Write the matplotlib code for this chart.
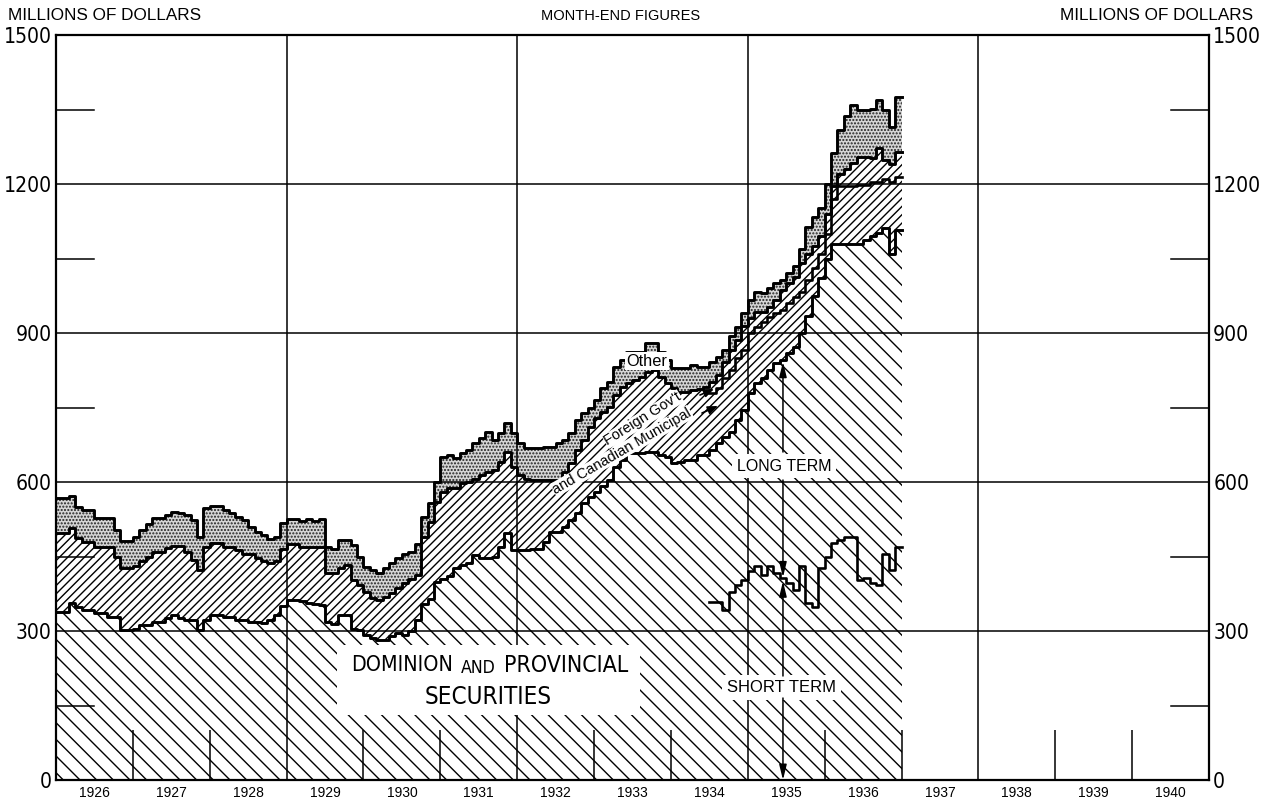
import os
import numpy as np
import matplotlib
matplotlib.use('Agg')
import matplotlib.pyplot as plt
from matplotlib.patches import Rectangle
from matplotlib import font_manager as fm

# ---------------- data (month-end, millions of dollars) ----------------
start_year = 1926  # first month = Jan 1926, last = Dec 1936

# top of "Dominion and Provincial securities"
dominion = [339, 339, 356, 349, 342, 342, 336, 336, 329, 329, 302, 302,
            305, 312, 312, 319, 319, 326, 332, 326, 322, 322, 302, 322,
            332, 332, 329, 329, 322, 322, 319, 319, 317, 322, 333, 350,
            362, 362, 360, 356, 355, 353, 318, 315, 333, 333, 305, 302,
            292, 285, 282, 282, 289, 295, 292, 299, 322, 355, 365, 399,
            405, 410, 426, 432, 436, 453, 446, 446, 450, 470, 497, 463,
            463, 463, 465, 465, 480, 500, 500, 510, 523, 537, 557, 570,
            580, 591, 604, 631, 644, 658, 658, 658, 661, 661, 655, 651,
            638, 640, 644, 644, 654, 654, 664, 678, 691, 701, 725, 745,
            780, 800, 810, 825, 839, 845, 859, 872, 900, 935, 975, 1010,
            1050, 1080, 1080, 1080, 1080, 1080, 1087, 1095, 1101, 1111, 1060, 1107]

# top of "Foreign Gov't and Canadian Municipal" (cumulative)
foreign_top = [497, 497, 507, 487, 480, 480, 470, 470, 470, 450, 426, 426,
               430, 440, 450, 460, 460, 467, 471, 471, 460, 443, 423, 470,
               477, 477, 470, 470, 463, 456, 456, 446, 440, 436, 440, 466,
               476, 476, 470, 470, 470, 470, 416, 416, 426, 433, 403, 393,
               379, 366, 362, 369, 376, 386, 396, 405, 413, 490, 520, 560,
               580, 587, 587, 597, 600, 607, 615, 620, 624, 641, 660, 631,
               614, 606, 604, 604, 604, 604, 604, 621, 638, 664, 685, 711,
               728, 740, 752, 775, 792, 800, 805, 812, 822, 825, 812, 799,
               789, 782, 782, 785, 788, 792, 802, 815, 842, 866, 886, 915,
               930, 943, 943, 953, 966, 986, 1000, 1013, 1040, 1060, 1075, 1095,
               1140, 1195, 1221, 1231, 1242, 1255, 1255, 1252, 1272, 1248, 1240, 1265]

# top of "Other" (total holdings)
total_top = [567, 567, 572, 549, 544, 544, 527, 527, 527, 503, 482, 482,
             490, 503, 515, 527, 527, 533, 540, 537, 533, 523, 490, 547,
             552, 552, 544, 538, 530, 523, 510, 500, 493, 486, 490, 517,
             525, 525, 522, 525, 522, 525, 470, 466, 483, 483, 473, 450,
             429, 423, 416, 426, 436, 446, 456, 460, 476, 530, 557, 601,
             650, 654, 648, 658, 664, 678, 688, 701, 684, 698, 719, 698,
             678, 668, 668, 668, 671, 671, 678, 685, 698, 725, 738, 748,
             765, 789, 802, 832, 846, 862, 862, 862, 879, 879, 862, 846,
             829, 829, 829, 835, 832, 832, 842, 852, 866, 893, 913, 940,
             966, 983, 980, 990, 1000, 1007, 1020, 1034, 1070, 1114, 1134, 1151,
             1200, 1262, 1309, 1336, 1359, 1349, 1349, 1352, 1369, 1349, 1315, 1376]

# from July 1934: split between Foreign Gov't (above) and Canadian Municipal (below)
split_start_month = 102
municipal_top = [780, 790, 810, 825, 849, 866, 900, 913, 923, 933, 940, 946,
                 960, 973, 983, 1007, 1030, 1060, 1100, 1170, 1195, 1195, 1195, 1198,
                 1198, 1205, 1205, 1211, 1205, 1215]

# short-term Dominion and Provincial securities
short_term = [359, 359, 342, 379, 393, 403, 420, 430, 413, 430, 416, 406,
              396, 383, 430, 356, 349, 426, 450, 477, 483, 490, 490, 403,
              406, 396, 393, 456, 423, 470]

year_labels = [str(y) for y in range(1926, 1941)]
y_ticks = [0, 300, 600, 900, 1200, 1500]

# ---------------- fonts ----------------
def find_font(names):
    files = {os.path.basename(f.fname): f.fname for f in fm.fontManager.ttflist}
    for n in names:
        if n in files:
            return fm.FontProperties(fname=files[n])
    return None


COND = find_font(['LiberationSansNarrow-Regular.ttf', 'DejaVuSansCondensed.ttf',
                  'NotoSans-Condensed.ttf', 'NotoSans-CondensedRegular.ttf',
                  'RobotoCondensed-Regular.ttf', 'OpenSans-CondensedRegular.ttf'])
if COND is None:
    COND = fm.FontProperties(family=['Liberation Sans', 'DejaVu Sans'])
SANS = ['Liberation Sans', 'DejaVu Sans']

# ---------------- figure ----------------
W, H = 1271, 801
plt.rcParams['hatch.linewidth'] = 1.0

fig = plt.figure(figsize=(W / 100, H / 100), dpi=100)
fig.patch.set_facecolor('white')
ax = fig.add_axes([56 / W, 1 - 780 / H, (1209 - 56) / W, (780 - 35) / H])
ax.set_xlim(1926, 1941)
ax.set_ylim(0, 1500)
for s in ax.spines.values():
    s.set_linewidth(1.6)
    s.set_zorder(6)

n = len(dominion)
x = start_year + np.arange(n + 1) / 12.0


def ext(v):
    v = np.asarray(v, dtype=float)
    return np.append(v, v[-1])


D = ext(dominion)
F = ext(foreign_top)
T = ext(total_top)

ax.fill_between(x, 0, D, step='post', facecolor='white', edgecolor='black',
                hatch='\\\\', linewidth=0, zorder=1)
ax.fill_between(x, D, F, step='post', facecolor='white', edgecolor='black',
                hatch='////', linewidth=0, zorder=1)
ax.fill_between(x, F, T, step='post', facecolor='#d6d6d6', edgecolor='#222222',
                hatch='.....', linewidth=0, zorder=1)

# grid
for yv in [300, 600, 900, 1200]:
    ax.axhline(yv, color='black', lw=1.1, zorder=2)
for xv in [1929, 1932, 1935, 1938]:
    ax.axvline(xv, color='black', lw=1.1, zorder=2)
for yv in [150, 450, 750, 1050, 1350]:
    ax.plot([1926, 1926.5], [yv, yv], color='black', lw=1.1, zorder=2)
    ax.plot([1940.5, 1941], [yv, yv], color='black', lw=1.1, zorder=2)
ax.vlines([1927, 1928, 1930, 1931, 1933, 1934, 1936, 1937, 1939, 1940], 0, 100,
          color='black', lw=1.1, zorder=2)

# boundary lines
for arr in (T, F, D):
    ax.step(x, arr, where='post', color='black', lw=2.1, zorder=4)
xs = start_year + (split_start_month + np.arange(len(municipal_top) + 1)) / 12.0
ax.step(xs, ext(municipal_top), where='post', color='black', lw=1.9, zorder=4)
ax.step(xs, ext(short_term), where='post', color='black', lw=1.9, zorder=4)

# ticks / labels
ax.set_yticks(y_ticks)
ax.set_yticklabels([str(v) for v in y_ticks])
ax.tick_params(axis='y', length=0, pad=3, labelright=True, right=False)
ax.set_xticks([])
ax.set_xticks([y + 0.5 for y in range(1926, 1941)], minor=True)
ax.set_xticklabels(year_labels, minor=True, fontfamily=SANS, fontsize=10)
ax.tick_params(axis='x', which='minor', length=0, pad=4)

fig.text(8 / W, 1 - 16 / H, 'MILLIONS OF DOLLARS', fontsize=12.3, family=SANS,
         ha='left', va='center')
fig.text(1253 / W, 1 - 16 / H, 'MILLIONS OF DOLLARS', fontsize=12.3, family=SANS,
         ha='right', va='center')
fig.text(621 / W, 1 - 16 / H, 'MONTH-END FIGURES', fontsize=10.5, family=SANS,
         ha='center', va='center')


def px2data(px, py):
    return 1926 + (px - 56) / 76.87, (780 - py) / 0.4967


fig.canvas.draw()
R = fig.canvas.get_renderer()


def fit(t, target_w, max_size):
    t.set_fontsize(20)
    w = t.get_window_extent(renderer=R).width
    t.set_fontsize(min(max_size, 20 * target_w / w))


# y tick labels (both sides)
for tk in ax.yaxis.get_major_ticks():
    for lab in (tk.label1, tk.label2):
        lab.set_fontproperties(COND)
        fit(lab, 12 * len(lab.get_text()) if lab.get_text() != '0' else 12, 17)

# big label
bx0, by0 = px2data(337, 715)
bx1, by1 = px2data(640, 645)
ax.add_patch(Rectangle((bx0, by0), bx1 - bx0, by1 - by0, facecolor='white',
                       edgecolor='none', zorder=5))
for txt, px, py, ha, tw, ms in [('DOMINION', 453, 665, 'right', 102, 20),
                                ('AND', 478.5, 668, 'center', 35, 13),
                                ('PROVINCIAL', 504, 665, 'left', 125, 20),
                                ('SECURITIES', 488, 697, 'center', 127, 20)]:
    tx, ty = px2data(px, py)
    t = ax.text(tx, ty, txt, fontproperties=COND, ha=ha, va='center', zorder=6)
    fit(t, tw, ms)

# long / short term
ax_x = px2data(783, 0)[0]
bb = dict(facecolor='white', edgecolor='none', pad=3)
tx, ty = px2data(784, 466)
t = ax.text(tx, ty, 'LONG TERM', family=SANS, ha='center', va='center', bbox=bb, zorder=6)
fit(t, 95, 12)
tx, ty = px2data(782, 687)
t = ax.text(tx, ty, 'SHORT TERM', family=SANS, ha='center', va='center', bbox=bb, zorder=6)
fit(t, 116, 12)
arrow = dict(arrowstyle='-|>,head_length=0.9,head_width=0.22', color='black', lw=1.1,
             shrinkA=0, shrinkB=0)
ax.annotate('', xy=(ax_x, 842), xytext=(ax_x, px2data(0, 452)[1]), arrowprops=arrow, zorder=6)
ax.annotate('', xy=(ax_x, 408), xytext=(ax_x, px2data(0, 480)[1]), arrowprops=arrow, zorder=6)
ax.annotate('', xy=(ax_x, 400), xytext=(ax_x, px2data(0, 676)[1]), arrowprops=arrow, zorder=6)
ax.annotate('', xy=(ax_x, 0), xytext=(ax_x, px2data(0, 698)[1]), arrowprops=arrow, zorder=6)

# other
tx, ty = px2data(647, 361)
t = ax.text(tx, ty, 'Other', family=SANS, ha='center', va='center',
            bbox=dict(facecolor='white', edgecolor='none', pad=1), zorder=6)
fit(t, 41, 12)

# foreign / municipal label
tx, ty = px2data(622, 451)
t2 = ax.text(tx, ty, 'and Canadian Municipal', family=SANS, rotation=30,
             rotation_mode='anchor', ha='center', va='center',
             bbox=dict(facecolor='white', edgecolor='none', pad=0.3), zorder=6)
t2.set_fontsize(10.5)
tx, ty = px2data(643, 419)
t1 = ax.text(tx, ty, "Foreign Gov't", family=SANS, rotation=32,
             rotation_mode='anchor', ha='center', va='center',
             bbox=dict(facecolor='white', edgecolor='none', pad=0.3), zorder=7)
t1.set_fontsize(10.5)
small = dict(arrowstyle='-|>,head_length=0.6,head_width=0.25', color='black', lw=1.2,
             shrinkA=0, shrinkB=0)
ax.annotate('', xy=px2data(714, 389), xytext=px2data(700, 395), arrowprops=small, zorder=6)
ax.annotate('', xy=px2data(718, 406), xytext=px2data(702, 413), arrowprops=small, zorder=6)

fig.savefig('out.png', dpi=100, facecolor='white')
